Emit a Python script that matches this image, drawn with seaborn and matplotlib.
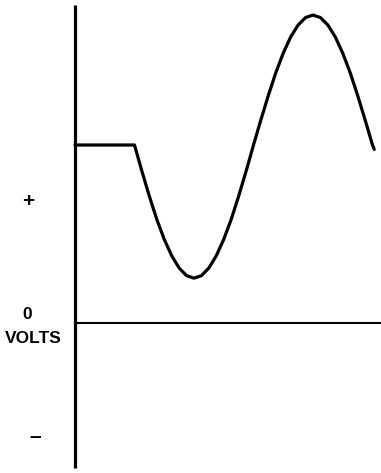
import numpy as np
import pandas as pd
import matplotlib
matplotlib.use("Agg")
import matplotlib.pyplot as plt
import seaborn as sns

# Waveform: time (in quarter periods) and voltage (relative to the DC level)
time = [0.0, 1.0, 1.125, 1.25, 1.375, 1.5, 1.625, 1.75, 1.875, 2.0,
        2.125, 2.25, 2.375, 2.5, 2.625, 2.75, 2.875, 3.0,
        3.125, 3.25, 3.375, 3.5, 3.625, 3.75, 3.875, 4.0,
        4.125, 4.25, 4.375, 4.5, 4.625, 4.75, 4.875, 5.0, 5.03]
volts = [1.0, 1.0, 0.852, 0.712, 0.582, 0.470, 0.378, 0.309, 0.266, 0.252,
         0.266, 0.309, 0.378, 0.470, 0.582, 0.712, 0.852, 1.000,
         1.142, 1.279, 1.406, 1.516, 1.607, 1.674, 1.716, 1.730,
         1.716, 1.674, 1.607, 1.516, 1.406, 1.279, 1.142, 1.000, 0.975]

# Voltage-axis labels and their levels
axis_labels = ["+", "0", "VOLTS", "–"]
label_levels = [0.685, 0.045, -0.085, -0.635]

sns.set_style("white")
plt.rcParams["font.family"] = ["Liberation Sans", "DejaVu Sans"]

fig = plt.figure(figsize=(3.81, 4.73), dpi=100)
ax = fig.add_axes([0, 0, 1, 1])

df = pd.DataFrame({"time": time, "volts": volts})
sns.lineplot(data=df, x="time", y="volts", ax=ax, sort=False, estimator=None,
             color="black", linewidth=2.3)

# Vertical voltage axis and zero-volt baseline
ax.plot([0, 0], [-0.816, 1.787], color="black", linewidth=2.3, solid_capstyle="butt")
ax.plot([0, 5.2], [0, 0], color="black", linewidth=1.5, solid_capstyle="butt")

label_x = [-0.79, -0.81, -0.71, -0.67]
label_sizes = [15, 12.5, 12.5, 15]
for txt, lx, ly, fs in zip(axis_labels, label_x, label_levels, label_sizes):
    ax.text(lx, ly, txt, ha="center", va="center", fontsize=fs,
            fontweight="bold", color="black")

ax.set_xlim(-1.2605, 5.143)
ax.set_ylim(-0.8427, 1.8146)
ax.set_xlabel("")
ax.set_ylabel("")
ax.set_xticks([])
ax.set_yticks([])
for s in ax.spines.values():
    s.set_visible(False)

fig.savefig("out.png", dpi=100, facecolor="white")
